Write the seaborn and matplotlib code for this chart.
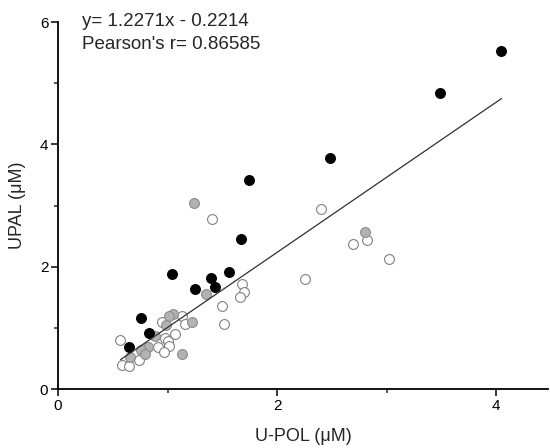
import matplotlib
matplotlib.use("Agg")
import matplotlib.pyplot as plt
from matplotlib.ticker import MultipleLocator
import seaborn as sns
import pandas as pd
import numpy as np

sns.set_style("ticks")
plt.rcParams['font.family'] = ['Liberation Sans', 'DejaVu Sans']

# Black (filled) series
black_x = [4.05, 3.49, 2.48, 1.74, 1.67, 1.04, 1.56, 1.40, 1.43, 1.25, 0.76, 0.83, 0.65]
black_y = [5.52, 4.84, 3.77, 3.41, 2.45, 1.88, 1.91, 1.81, 1.67, 1.63, 1.16, 0.91, 0.68]

# Gray (filled) series
gray_x = [1.24, 2.80, 1.35, 1.05, 1.01, 0.99, 1.22, 0.89, 0.82, 0.76, 0.79, 0.66, 1.13]
gray_y = [3.04, 2.57, 1.56, 1.22, 1.19, 1.04, 1.09, 0.86, 0.69, 0.64, 0.58, 0.53, 0.58]

# Open (white) series
open_x = [1.41, 2.40, 2.69, 2.82, 3.02, 2.26, 1.68, 1.70, 1.66, 1.50, 1.52,
          1.13, 0.95, 1.16, 1.07, 0.98, 1.00, 0.57, 0.91, 1.01, 0.97, 0.74, 0.58, 0.65]
open_y = [2.78, 2.94, 2.37, 2.43, 2.13, 1.80, 1.71, 1.58, 1.50, 1.36, 1.06,
          1.19, 1.09, 1.06, 0.90, 0.83, 0.78, 0.80, 0.68, 0.70, 0.60, 0.48, 0.39, 0.38]

slope = 1.2271
intercept = -0.2214
pearson_r = 0.86585

x_ticks = [0, 2, 4]
y_ticks = [0, 2, 4, 6]

df = pd.concat([
    pd.DataFrame({"x": black_x, "y": black_y, "group": "black"}),
    pd.DataFrame({"x": gray_x, "y": gray_y, "group": "gray"}),
    pd.DataFrame({"x": open_x, "y": open_y, "group": "open"}),
], ignore_index=True)

fig = plt.figure(figsize=(5.5, 4.48), dpi=100)
ax = fig.add_axes([58/550, 59/448, (548-58)/550, (389-22)/448])

styles = {
    "open": dict(color="white", edgecolor="#808080"),
    "gray": dict(color="#b3b3b3", edgecolor="#8c8c8c"),
    "black": dict(color="black", edgecolor="black"),
}
for g in ["open", "gray", "black"]:
    sub = df[df.group == g]
    sns.scatterplot(data=sub, x="x", y="y", ax=ax, s=50, linewidth=0.8,
                    legend=False, zorder=3, **styles[g])

xl = np.array([df.x.min(), df.x.max()])
sns.lineplot(x=xl, y=slope * xl + intercept, ax=ax, color="#303030",
             linewidth=0.9, zorder=4)

ax.set_xlim(0, (548-58)/109.5)
ax.set_ylim(0, 6)
ax.set_xticks(x_ticks)
ax.set_yticks(y_ticks)
ax.xaxis.set_minor_locator(MultipleLocator(1))
ax.yaxis.set_minor_locator(MultipleLocator(1))
ax.tick_params(which="major", direction="out", length=5, width=1.1,
               labelsize=11, color="black", labelcolor="black", pad=2)
ax.tick_params(which="minor", direction="out", length=3, width=1.1)
for side in ["top", "right"]:
    ax.spines[side].set_visible(False)
for side in ["left", "bottom"]:
    ax.spines[side].set_linewidth(1.3)
    ax.spines[side].set_color("black")

ax.set_xlabel("U-POL (\u03bcM)", fontsize=13, labelpad=11)
ax.set_ylabel("UPAL (\u03bcM)", fontsize=13, labelpad=10)

fig.text(82/550, 1 - 13/448,
         f"y= {slope}x - {abs(intercept)}\nPearson's r= {pearson_r}",
         fontsize=13.5, va="top", ha="left", linespacing=1.45)

fig.savefig("out.png", dpi=100)
